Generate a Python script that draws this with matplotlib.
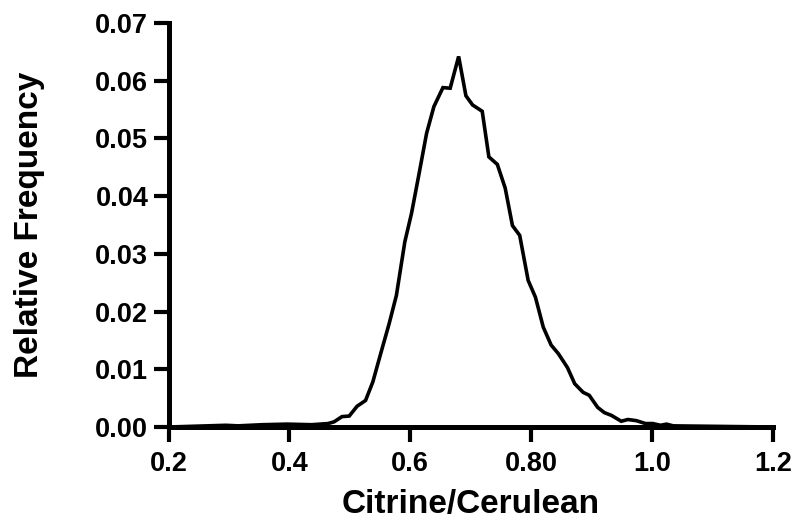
import numpy as np
import matplotlib
matplotlib.use("Agg")
import matplotlib.pyplot as plt

plt.rcParams['font.family'] = ['Liberation Sans', 'DejaVu Sans']
plt.rcParams['font.weight'] = 'bold'

# histogram of citrine/cerulean ratio
ratio = [0.200, 0.295, 0.315, 0.355, 0.396, 0.437, 0.464, 0.474, 0.487, 0.499,
         0.512, 0.526, 0.538, 0.551, 0.565, 0.577, 0.591, 0.602, 0.614, 0.627,
         0.639, 0.654, 0.666, 0.680, 0.692, 0.703, 0.719, 0.730, 0.744, 0.757,
         0.769, 0.781, 0.795, 0.807, 0.820, 0.833, 0.845, 0.860, 0.872, 0.886,
         0.896, 0.910, 0.921, 0.933, 0.949, 0.960, 0.974, 0.989, 1.001, 1.014,
         1.024, 1.035, 1.200]
rel_freq = [0.0000, 0.0003, 0.0002, 0.0004, 0.0005, 0.0004, 0.0006, 0.0009, 0.0018, 0.0019,
            0.0036, 0.0046, 0.0078, 0.0127, 0.0179, 0.0228, 0.0321, 0.0370, 0.0436, 0.0509,
            0.0555, 0.0588, 0.0587, 0.0642, 0.0574, 0.0558, 0.0547, 0.0468, 0.0455, 0.0414,
            0.0349, 0.0332, 0.0254, 0.0225, 0.0173, 0.0142, 0.0127, 0.0103, 0.0075, 0.0060,
            0.0055, 0.0034, 0.0025, 0.0020, 0.0010, 0.0013, 0.0011, 0.0006, 0.0006, 0.0003,
            0.0005, 0.0002, 0.0000]

xticks = [0.2, 0.4, 0.6, 0.8, 1.0, 1.2]
xticklabels = ["0.2", "0.4", "0.6", "0.80", "1.0", "1.2"]
yticks = [0.00, 0.01, 0.02, 0.03, 0.04, 0.05, 0.06, 0.07]
yticklabels = ["0.00", "0.01", "0.02", "0.03", "0.04", "0.05", "0.06", "0.07"]

fig = plt.figure(figsize=(8.02, 5.21), dpi=100)
ax = fig.add_axes([0.2101, 0.1804, 0.7537, 0.7755])

ax.plot(ratio, rel_freq, color='black', linewidth=2.6, solid_joinstyle='miter', clip_on=False)

ax.set_xlim(0.2, 1.2)
ax.set_ylim(0, 0.07)
ax.set_xticks(xticks)
ax.set_xticklabels(xticklabels)
ax.set_yticks(yticks)
ax.set_yticklabels(yticklabels)

for side in ['top', 'right']:
    ax.spines[side].set_visible(False)
for side in ['left', 'bottom']:
    ax.spines[side].set_linewidth(3.6)
    ax.spines[side].set_capstyle('projecting')

ax.tick_params(axis='both', direction='out', length=11, width=3, labelsize=19.5, pad=3.5, color='black')
ax.tick_params(axis='x', pad=6)

ax.set_xlabel("Citrine/Cerulean", fontsize=24, fontweight='bold', labelpad=9)
ax.set_ylabel("Relative Frequency", fontsize=24, fontweight='bold', labelpad=36)

plt.savefig("out.png", dpi=100)
